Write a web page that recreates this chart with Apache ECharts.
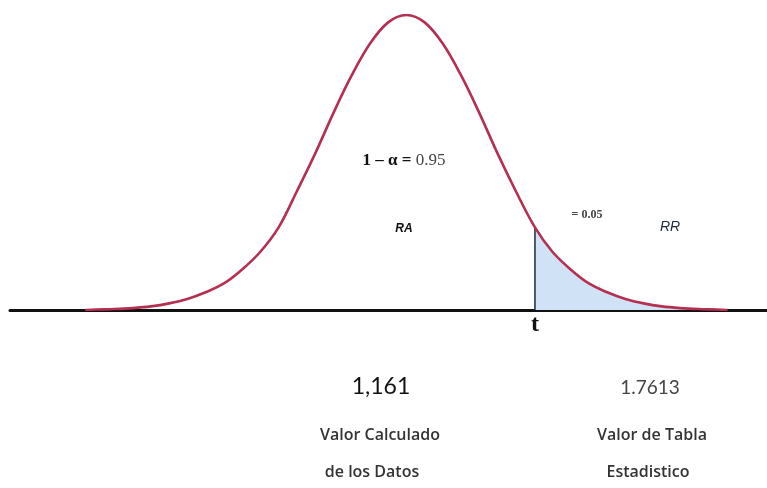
<!DOCTYPE html>
<html>
<head>
<meta charset="utf-8">
<script src="https://cdn.jsdelivr.net/npm/echarts@6/dist/echarts.min.js"></script>
<style>
html,body{margin:0;padding:0;background:#fff;}
#chart{width:767px;height:488px;}
</style>
</head>
<body>
<div id="chart"></div>
<script>
// Curve (t value, density height)
var curveT = [-4.4,-4.25,-4.0,-3.75,-3.5,-3.25,-3.0,-2.75,-2.5,-2.25,-2.0,-1.75,-1.5,-1.25,-1.0,-0.75,-0.5,-0.25,0,0.25,0.5,0.75,1.0,1.25,1.5,1.7613,2.0,2.25,2.5,2.75,3.0,3.25,3.5,3.75,4.0,4.25,4.4];
var curveD = [0,0.0006,0.0013,0.0026,0.0049,0.009,0.015,0.024,0.036,0.055,0.079,0.112,0.161,0.212,0.267,0.318,0.361,0.390,0.400,0.390,0.361,0.318,0.267,0.212,0.161,0.112,0.079,0.055,0.036,0.024,0.015,0.009,0.0049,0.0026,0.0013,0.0006,0];
var criticalT = 1.7613;
var calcValueLabel = '1,161';
var tableValueLabel = '1.7613';
var leftCaption = ['Valor Calculado', 'de los Datos'];
var rightCaption = ['Valor de Tabla', 'Estadistico'];
var areaLabels = ['1 \u2013 \u03b1 = ', '0.95', '= 0.05', 'RA', 'RR', '\u03b1', 't'];

var curve = curveT.map(function (t, i) { return [t, curveD[i]]; });
var tail = curve.filter(function (p) { return p[0] >= criticalT; });
var critD = curveD[curveT.indexOf(criticalT)];

var chart = echarts.init(document.getElementById('chart'), null, {renderer: 'canvas'});
var option = {
  backgroundColor: '#ffffff',
  animation: false,
  grid: {left: 10, right: 0, top: 15, bottom: 178, containLabel: false},
  xAxis: {
    type: 'value', min: -5.43, max: 4.94,
    axisLine: {show: true, onZero: false, lineStyle: {color: '#111111', width: 3}},
    axisTick: {show: false}, axisLabel: {show: false}, splitLine: {show: false}
  },
  yAxis: {
    type: 'value', min: 0, max: 0.4,
    axisLine: {show: false}, axisTick: {show: false}, axisLabel: {show: false}, splitLine: {show: false}
  },
  series: [
    {
      type: 'line', data: tail, smooth: 0.35, symbol: 'none', z: 1,
      lineStyle: {width: 0},
      areaStyle: {color: '#cfe2f6', opacity: 1}
    },
    {
      type: 'line', data: [[criticalT, 0], [criticalT, critD]], symbol: 'none', z: 2,
      lineStyle: {color: '#2a3644', width: 1.6}
    },
    {
      type: 'line', data: curve, smooth: 0.35, symbol: 'none', z: 3,
      lineStyle: {color: '#b52f50', width: 2.6}
    }
  ],
  graphic: [
    {type: 'text', x: 404, y: 161, style: {
      text: '{a|' + areaLabels[0] + '}{b|' + areaLabels[1] + '}', align: 'center', verticalAlign: 'middle',
      rich: {
        a: {fontFamily: 'Liberation Serif', fontWeight: 'bold', fontSize: 17, fill: '#111'},
        b: {fontFamily: 'Liberation Serif', fontSize: 17, fill: '#444'}
      }}},
    {type: 'text', x: 587, y: 215, style: {text: areaLabels[2], font: 'bold 12px "Liberation Serif"', fill: '#444', align: 'center', verticalAlign: 'middle'}},
    {type: 'text', x: 404, y: 229, style: {text: areaLabels[3], font: 'italic bold 12px "Liberation Sans"', fill: '#111', align: 'center', verticalAlign: 'middle'}},
    {type: 'text', x: 670, y: 227, style: {text: areaLabels[4], font: 'italic 14px "Liberation Sans"', fill: '#1c2a3a', align: 'center', verticalAlign: 'middle'}},
    {type: 'text', x: 565, y: 292, style: {text: areaLabels[5], font: 'italic 24px "Liberation Serif"', fill: '#d2405e', align: 'center', verticalAlign: 'middle'}},
    {type: 'text', x: 535, y: 325, style: {text: areaLabels[6], font: 'bold 24px "Liberation Serif"', fill: '#111', align: 'center', verticalAlign: 'middle'}},
    {type: 'text', x: 381, y: 387, style: {text: calcValueLabel, font: '23px Lato', fill: '#111', align: 'center', verticalAlign: 'middle'}},
    {type: 'text', x: 650, y: 388, style: {text: tableValueLabel, font: '19px Lato', fill: '#444', align: 'center', verticalAlign: 'middle'}},
    {type: 'text', x: 380, y: 435, style: {text: leftCaption[0], font: '600 16px "Open Sans"', fill: '#333', align: 'center', verticalAlign: 'middle'}},
    {type: 'text', x: 372, y: 472, style: {text: leftCaption[1], font: '600 16px "Open Sans"', fill: '#333', align: 'center', verticalAlign: 'middle'}},
    {type: 'text', x: 652, y: 435, style: {text: rightCaption[0], font: '600 16px "Open Sans"', fill: '#333', align: 'center', verticalAlign: 'middle'}},
    {type: 'text', x: 648, y: 472, style: {text: rightCaption[1], font: '600 16px "Open Sans"', fill: '#333', align: 'center', verticalAlign: 'middle'}}
  ]
};
chart.setOption(option);
</script>
</body>
</html>
